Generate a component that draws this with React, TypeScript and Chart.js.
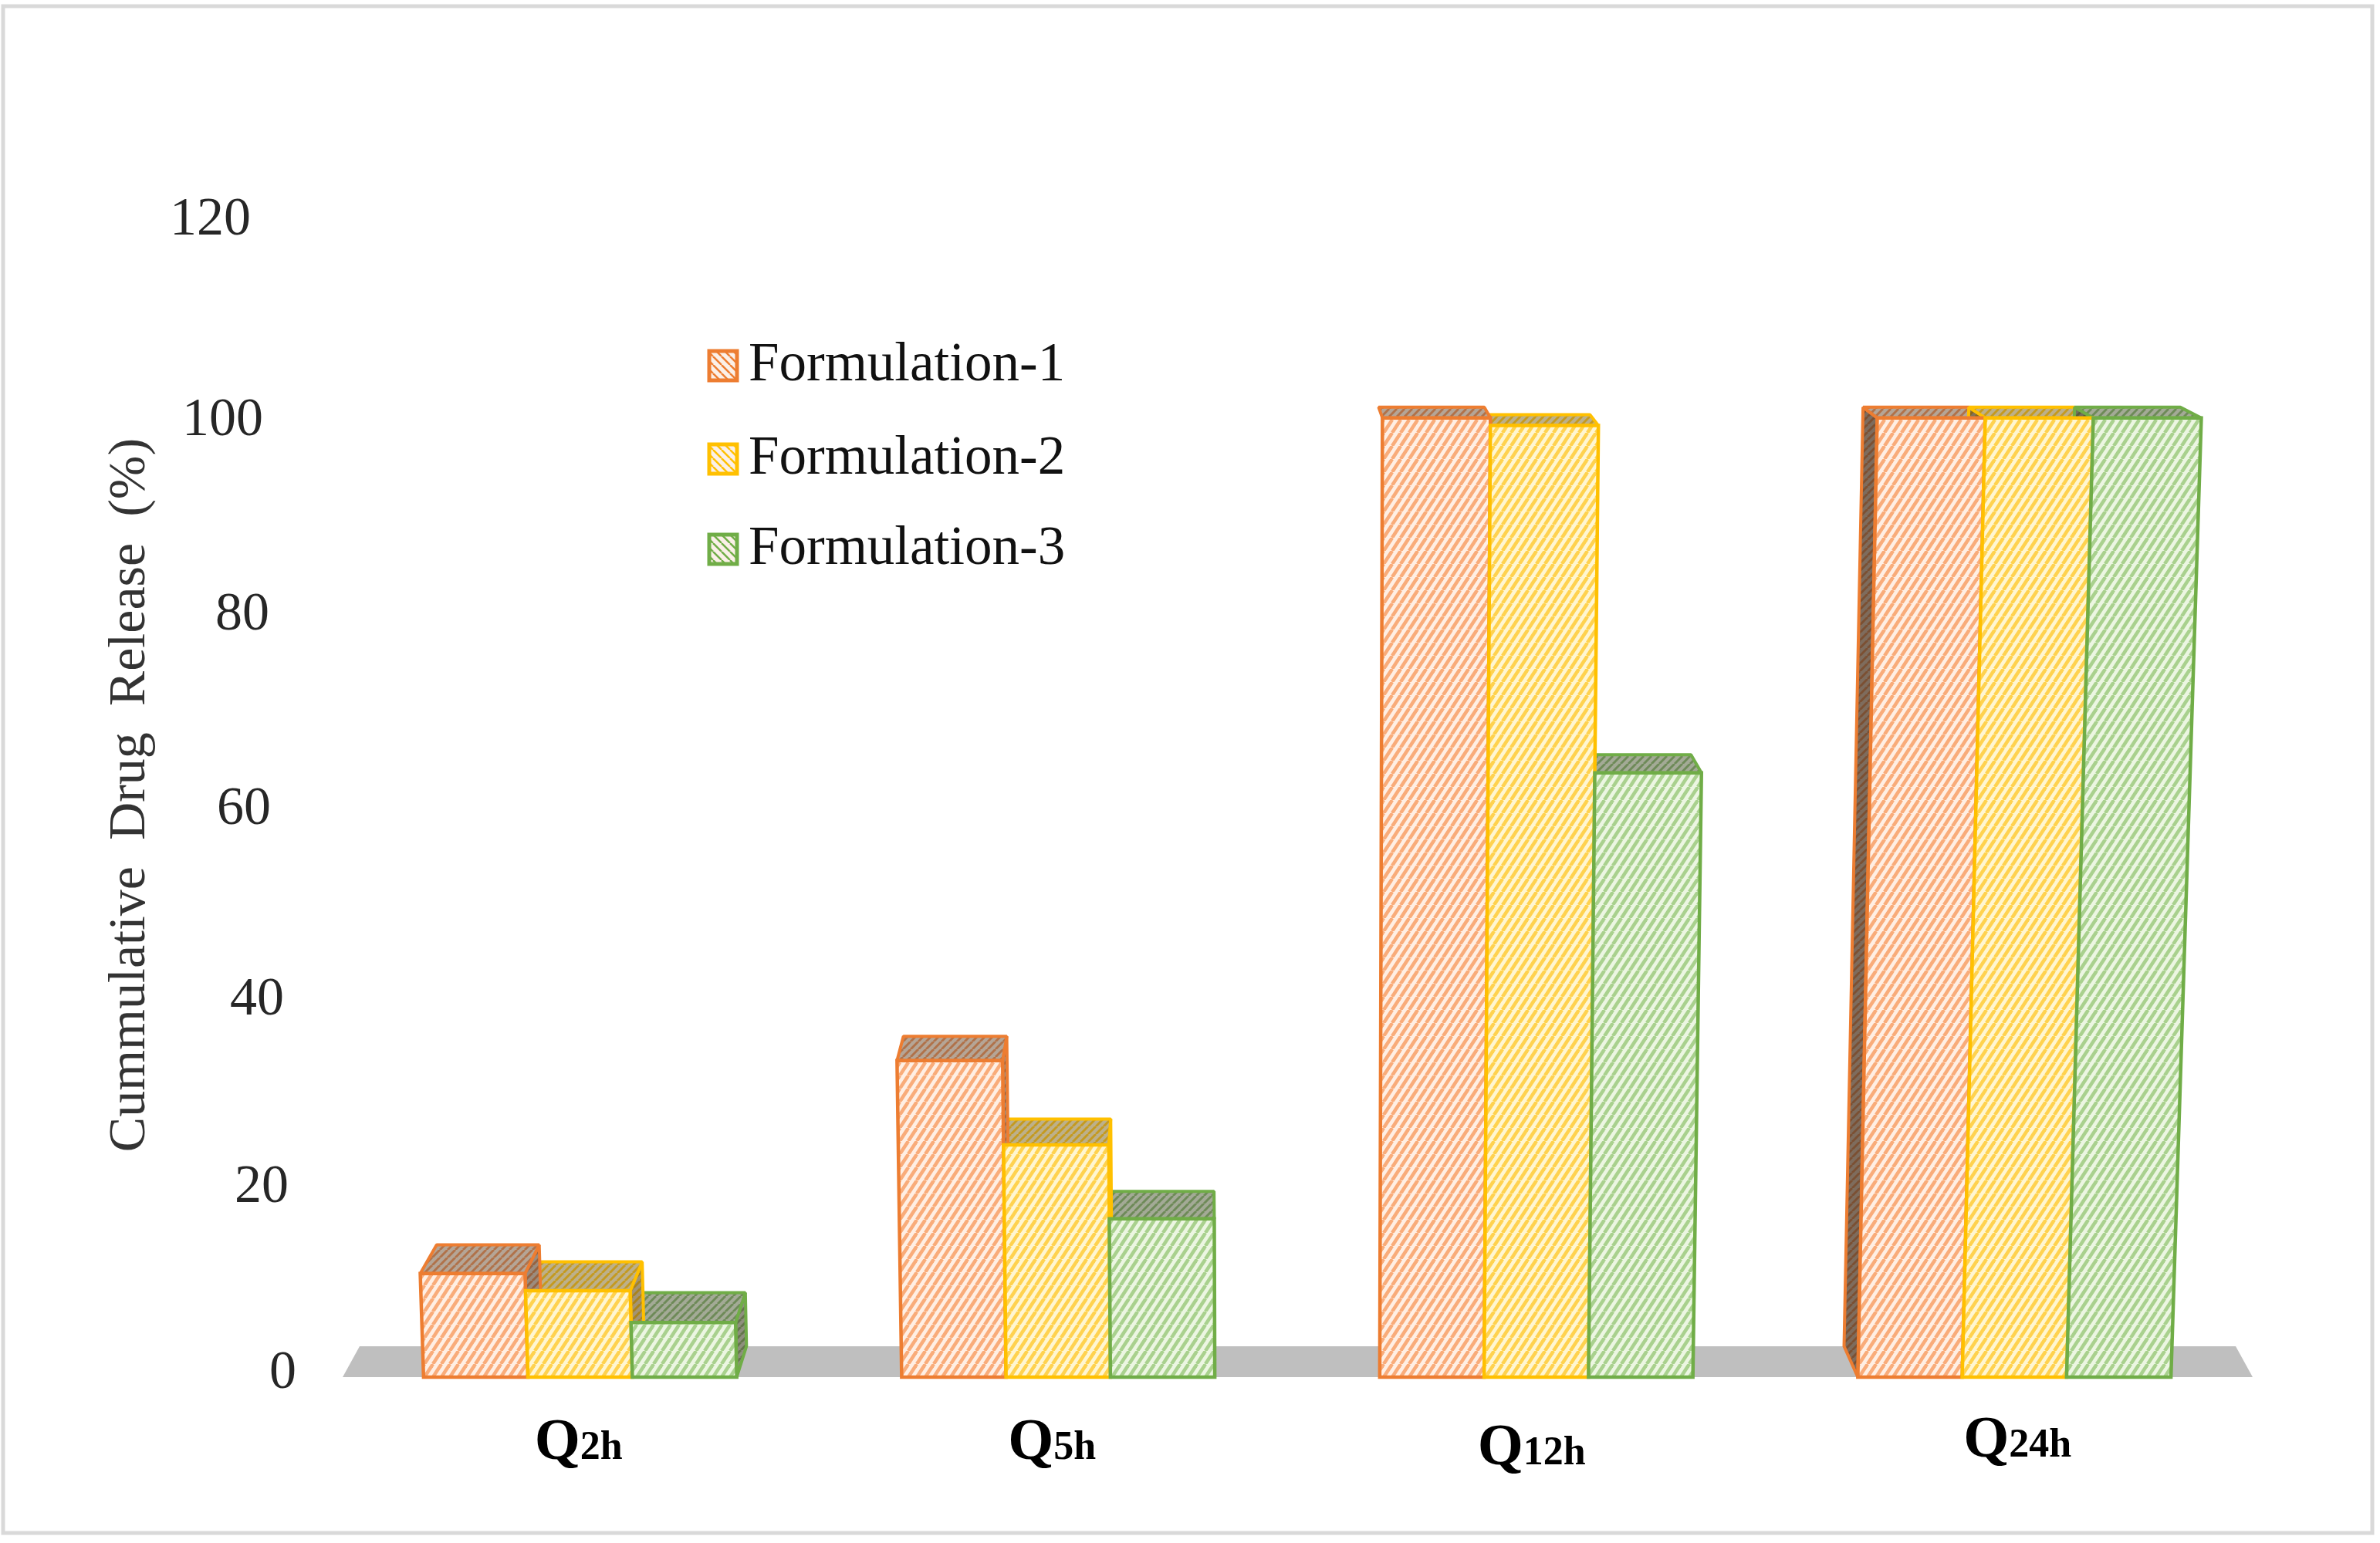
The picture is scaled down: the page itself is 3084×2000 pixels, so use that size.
import React, { useEffect, useRef } from "react";
import { Chart, registerables } from "chart.js";

Chart.register(...registerables);

const categories = ["Q2h", "Q5h", "Q12h", "Q24h"];
const seriesNames = ["Formulation-1", "Formulation-2", "Formulation-3"];
const formulation1 = [10.8, 33, 100, 100];
const formulation2 = [9, 24.2, 99.2, 100];
const formulation3 = [5.7, 16.5, 63, 100];

const lineColors = ["#ED7D31", "#FFC000", "#70AD47"];
const tintColors = ["#FFEFE4", "#FFF6D2", "#ECF6E2"];
const stripeColors = ["#F9AC7A", "#FFD24F", "#A9D18E"];
const capBase = ["#B5A596", "#BDB08A", "#A3AA96"];
const capStripe = ["#B0724A", "#C49A20", "#6E8A58"];

const SERIF = '"Liberation Serif", serif';
const tickRight = [384, 374, 368, 351, 349, 341, 325];
const tickNudge = [-4, 3, 9, 11, 7, 4, -7];
const catNudgeX = [-2, -8, -6, 4];
const catBaseline = [1891, 1891, 1898, 1888];
const legendBaselines = [493, 614, 731];

function tile(bg: string, fg: string, w: number, h: number, lw: number, flip = false) {
  const c = document.createElement("canvas");
  c.width = w;
  c.height = h;
  const g = c.getContext("2d")!;
  g.fillStyle = bg;
  g.fillRect(0, 0, w, h);
  g.strokeStyle = fg;
  g.lineWidth = lw;
  for (let i = -1; i <= 1; i++) {
    g.beginPath();
    if (flip) {
      g.moveTo(i * w, 0);
      g.lineTo(i * w + w, h);
    } else {
      g.moveTo(i * w, h);
      g.lineTo(i * w + w, 0);
    }
    g.stroke();
  }
  return c;
}

function quad(ctx: CanvasRenderingContext2D, p: number[][]) {
  ctx.beginPath();
  ctx.moveTo(p[0][0], p[0][1]);
  for (let i = 1; i < p.length; i++) ctx.lineTo(p[i][0], p[i][1]);
  ctx.closePath();
}

const frame3d = {
  id: "frame3d",
  beforeDraw(chart: any) {
    const { ctx, chartArea: a } = chart;
    ctx.save();
    ctx.fillStyle = "#ffffff";
    ctx.fillRect(0, 0, chart.width, chart.height);
    ctx.strokeStyle = "#D9D9D9";
    ctx.lineWidth = 5;
    ctx.strokeRect(4, 8, 3070, 1979);
    // floor of the 3D plot
    ctx.fillStyle = "#BFBFBF";
    quad(ctx, [
      [a.left + 2, a.bottom],
      [a.right - 1, a.bottom],
      [a.right - 23, a.bottom - 40],
      [a.left + 24, a.bottom - 40],
    ]);
    ctx.fill();
    ctx.restore();
  },
  beforeDatasetsDraw(chart: any) {
    const { ctx, scales } = chart;
    const y = scales.y;
    const base = y.getPixelForValue(0);
    const full = base - y.getPixelForValue(100);
    const persp = (px: number, py: number) => {
      const h = (base - py) / full;
      return px + h * 0.035 * (px - 1689);
    };
    const back = (px: number, py: number) => {
      const h = (base - py) / full;
      return [px + 0.021 * (1557 - px), py - (40 - 26.2 * h)];
    };
    const fronts = seriesNames.map((_, i) => ctx.createPattern(tile(tintColors[i], stripeColors[i], 11, 17, 4.5), "repeat"));
    const tops = seriesNames.map((_, i) => ctx.createPattern(tile(capBase[i], capStripe[i], 10, 10, 3), "repeat"));

    ctx.save();
    ctx.lineJoin = "bevel";
    const bars: any[] = [];
    chart.data.datasets.forEach((ds: any, s: number) => {
      chart.getDatasetMeta(s).data.forEach((el: any, c: number) => {
        bars.push({ s, c, v: ds.data[c], x0: el.x - el.width / 2, x1: el.x + el.width / 2, top: el.y, bot: el.base });
      });
    });
    // back faces: lower bars first so that taller neighbours hide them
    [...bars].sort((a, b) => a.v - b.v).forEach((b) => {
      const tl = [persp(b.x0, b.top), b.top];
      const tr = [persp(b.x1, b.top), b.top];
      const btl = back(tl[0], tl[1]);
      const btr = back(tr[0], tr[1]);
      ctx.lineWidth = 4;
      ctx.strokeStyle = lineColors[b.s];
      let side: number[][] | null = null;
      let shade = 0.2;
      if (btr[0] > tr[0] + 1) side = [tr, btr, back(b.x1, b.bot), [b.x1, b.bot]];
      else if (btl[0] < tl[0] - 8) {
        side = [tl, btl, back(b.x0, b.bot), [b.x0, b.bot]];
        shade = 0.45;
      }
      if (side) {
        quad(ctx, side);
        ctx.fillStyle = tops[b.s];
        ctx.fill();
        ctx.fillStyle = `rgba(60,40,25,${shade})`;
        ctx.fill();
        ctx.stroke();
      }
      quad(ctx, [tl, btl, btr, tr]);
      ctx.fillStyle = tops[b.s];
      ctx.fill();
      ctx.stroke();
    });
    // front faces
    ctx.lineJoin = "miter";
    bars.forEach((b) => {
      const pts = [
        [b.x0, b.bot],
        [b.x1, b.bot],
        [persp(b.x1, b.top), b.top],
        [persp(b.x0, b.top), b.top],
      ];
      quad(ctx, pts);
      ctx.fillStyle = fronts[b.s];
      ctx.fill();
      ctx.lineWidth = 4.5;
      ctx.strokeStyle = lineColors[b.s];
      ctx.stroke();
    });
    ctx.restore();
    return false;
  },
  afterDraw(chart: any) {
    const { ctx, scales } = chart;
    ctx.save();
    // value ticks follow the slanted axis of the 3D view
    ctx.fillStyle = "#262626";
    ctx.font = `70px ${SERIF}`;
    ctx.textAlign = "right";
    ctx.textBaseline = "middle";
    scales.y.ticks.forEach((t: any, i: number) => {
      ctx.fillText(String(t.value), tickRight[i], scales.y.getPixelForValue(t.value) + tickNudge[i]);
    });
    // category labels with subscripts
    ctx.fillStyle = "#000000";
    ctx.textBaseline = "alphabetic";
    ctx.textAlign = "left";
    categories.forEach((label, i) => {
      const head = label.slice(0, 1);
      const tail = label.slice(1);
      ctx.font = `bold 76px ${SERIF}`;
      const wq = ctx.measureText(head).width;
      ctx.font = `bold 52px ${SERIF}`;
      const wt = ctx.measureText(tail).width;
      const cx = scales.x.getPixelForValue(i) + catNudgeX[i];
      const x = cx - (wq + wt) / 2;
      ctx.font = `bold 76px ${SERIF}`;
      ctx.fillText(head, x, catBaseline[i]);
      ctx.font = `bold 52px ${SERIF}`;
      ctx.fillText(tail, x + wq, catBaseline[i]);
    });
    // legend inside the plot
    chart.data.datasets.forEach((ds: any, i: number) => {
      const yb = legendBaselines[i];
      ctx.fillStyle = ctx.createPattern(tile("#FBF0E8", lineColors[i], 11, 11, 2.5, true), "repeat");
      ctx.fillRect(919, yb - 38, 36, 38);
      ctx.strokeStyle = lineColors[i];
      ctx.lineWidth = 5;
      ctx.strokeRect(919, yb - 38, 36, 38);
      ctx.fillStyle = "#111111";
      ctx.font = `71px ${SERIF}`;
      ctx.fillText(ds.label, 970, yb);
    });
    ctx.restore();
  },
};

export default function App() {
  const ref = useRef<HTMLCanvasElement>(null);
  useEffect(() => {
    document.body.style.margin = "0";
    const chart = new Chart(ref.current!, {
      type: "bar",
      data: {
        labels: categories,
        datasets: [
          { label: seriesNames[0], data: formulation1, backgroundColor: lineColors[0], borderColor: lineColors[0] },
          { label: seriesNames[1], data: formulation2, backgroundColor: lineColors[1], borderColor: lineColors[1] },
          { label: seriesNames[2], data: formulation3, backgroundColor: lineColors[2], borderColor: lineColors[2] },
        ],
      },
      plugins: [frame3d],
      options: {
        animation: false,
        responsive: false,
        devicePixelRatio: 1,
        layout: { padding: { left: 128, top: 293, right: 164, bottom: 215 } },
        datasets: { bar: { categoryPercentage: 0.655, barPercentage: 1 } },
        plugins: { legend: { display: false }, tooltip: { enabled: false } },
        scales: {
          x: {
            grid: { display: false },
            border: { display: false },
            ticks: { display: false },
            afterFit: (s: any) => {
              s.height = 0;
            },
          },
          y: {
            min: 0,
            max: 120,
            ticks: { stepSize: 20, display: false },
            grid: { display: false },
            border: { display: false },
            title: {
              display: true,
              text: " Cummulative  Drug  Release  (%)",
              color: "#333333",
              padding: 0,
              font: { family: "Liberation Serif", size: 68, weight: "normal" },
            },
            afterFit: (s: any) => {
              s.width = 314;
            },
          },
        },
      },
    } as any);
    return () => chart.destroy();
  }, []);
  return <canvas ref={ref} width={3084} height={2000} style={{ display: "block" }} />;
}
